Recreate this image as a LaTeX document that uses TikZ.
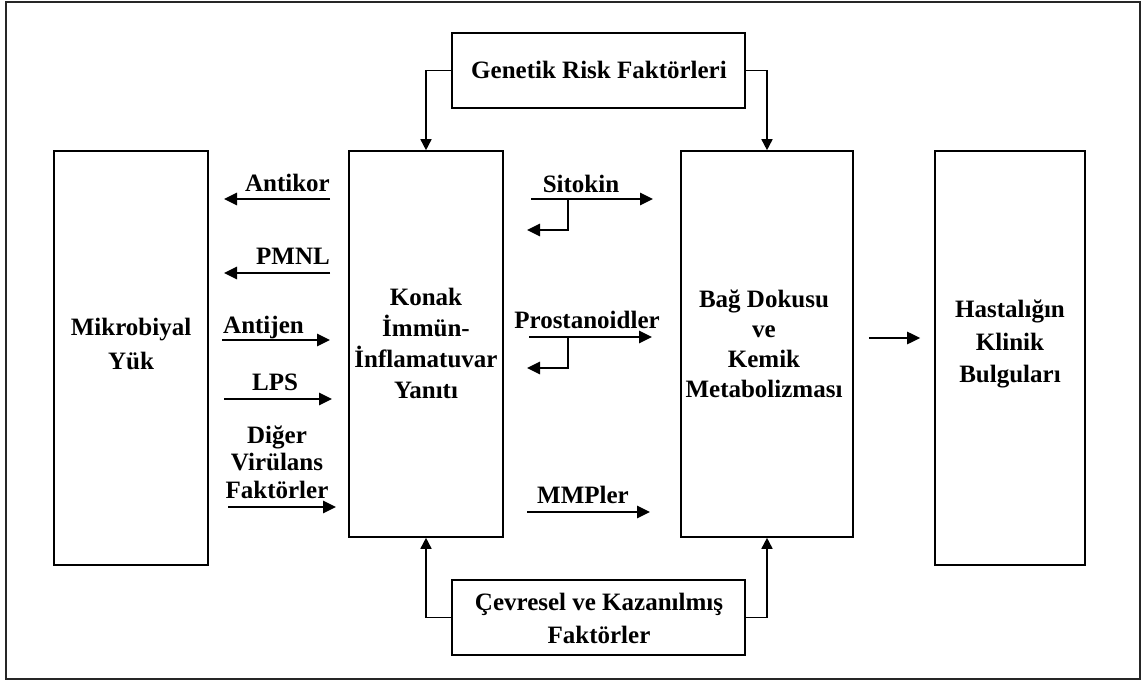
\documentclass[tikz,border=0pt]{standalone}
\usepackage{fontspec}
\setmainfont{Liberation Serif}
\usetikzlibrary{arrows.meta, positioning, calc}

\begin{document}
\begin{tikzpicture}[
    x=1pt, y=-1pt,
    bigbox/.style={
      draw=black, line width=1.6pt, inner sep=0pt,
    },
    boxtext/.style={
      font=\fontsize{25}{31}\selectfont\bfseries, align=center, inner sep=0pt
    },
    lbl/.style={font=\fontsize{25}{30}\selectfont\bfseries, inner sep=0pt},
    flow arrow/.style={-{Triangle[length=13pt,width=12pt]}, line width=2.6pt},
    link arrow/.style={-{Triangle[length=11pt,width=11pt]}, line width=1.6pt},
  ]

  %% ---- page and outer frame ----
  \useasboundingbox (0,0) rectangle (1142,684);
  \draw[line width=1.2pt, black!85] (6,2) rectangle (1140,679);

  %% ---- main boxes (centres from the layout grid) ----
  \node[bigbox, minimum width=154, minimum height=414] (mikro) at (131,358)   {};
  \node[bigbox, minimum width=154, minimum height=386] (konak) at (426,344)   {};
  \node[bigbox, minimum width=172, minimum height=386] (bag)   at (767,344)   {};
  \node[bigbox, minimum width=150, minimum height=414] (hasta) at (1010,358)  {};

  % factor boxes, top and bottom
  \node[bigbox, minimum width=293, minimum height=75] (genetik)  at (598.5,70.5)  {};
  \node[bigbox, minimum width=293, minimum height=75] (cevresel) at (598.5,617.5) {};

  %% ---- texts inside the boxes ----
  \node[boxtext, font=\fontsize{25}{34}\selectfont\bfseries]
    at (131,344) {Mikrobiyal\\Yük};
  \node[boxtext] at (426,343) {Konak\\İmmün-\\İnflamatuvar\\Yanıtı};
  \node[boxtext, font=\fontsize{25}{30}\selectfont\bfseries]
    at (764,344) {Bağ Dokusu\\ve\\Kemik\\Metabolizması};
  \node[boxtext, font=\fontsize{25}{32.5}\selectfont\bfseries]
    at (1010,344) {Hastalığın\\Klinik\\Bulguları};
  \node[boxtext] at (599,70) {Genetik Risk Faktörleri};
  \node[boxtext, font=\fontsize{25}{33}\selectfont\bfseries]
    at (599,618) {Çevresel ve Kazanılmış\\Faktörler};

  %% ---- factor links into the middle boxes ----
  \draw[link arrow] (genetik.west)  -| (konak.north);
  \draw[link arrow] (genetik.east)  -| (bag.north);
  \draw[link arrow] (cevresel.west) -| (konak.south);
  \draw[link arrow] (cevresel.east) -| (bag.south);

  %% ---- left column: host -> microbes and back ----
  \coordinate (antikorA) at (330,199);  \coordinate (antikorB) at (224,199);
  \coordinate (pmnlA)    at (330,273);  \coordinate (pmnlB)    at (224,273);
  \coordinate (antijenA) at (222,340);  \coordinate (antijenB) at (330,340);
  \coordinate (lpsA)     at (224,399);  \coordinate (lpsB)     at (332,399);
  \coordinate (digerA)   at (228,507);  \coordinate (digerB)   at (336,507);

  \draw[flow arrow] (antikorA) -- (antikorB);
  \draw[flow arrow] (pmnlA)    -- (pmnlB);
  \draw[flow arrow] (antijenA) -- (antijenB);
  \draw[flow arrow] (lpsA)     -- (lpsB);
  \draw[flow arrow] (digerA)   -- (digerB);

  \node[lbl, anchor=base east] (antikor) at (330,192) {Antikor};
  \node[lbl, anchor=base east] (pmnl)    at (330,265) {PMNL};
  \node[lbl, anchor=base west] (antijen) at (223,333) {Antijen};
  \node[lbl, anchor=base]      (lps)     at (275,390) {LPS};
  \node[boxtext, font=\fontsize{25}{27.5}\selectfont\bfseries]
    (diger) at (277,462) {Diğer\\Virülans\\Faktörler};

  %% ---- middle column: host -> tissue, with feedback ----
  \coordinate (sitokinA) at (531,199);  \coordinate (sitokinB) at (653,199);
  \coordinate (sitokinC) at (568,199);  \coordinate (sitokinD) at (527,230);
  \coordinate (prostA)   at (529,337);  \coordinate (prostB)   at (652,337);
  \coordinate (prostC)   at (568,337);  \coordinate (prostD)   at (527,368);
  \coordinate (mmpA)     at (527,512);  \coordinate (mmpB)     at (650,512);

  \draw[flow arrow] (sitokinA) -- (sitokinB);
  \draw[flow arrow] (sitokinC) |- (sitokinD);
  \draw[flow arrow] (prostA)   -- (prostB);
  \draw[flow arrow] (prostC)   |- (prostD);
  \draw[flow arrow] (mmpA)     -- (mmpB);

  \node[lbl, anchor=base] (sitokin) at (581,193) {Sitokin};
  \node[lbl, anchor=base] (prost)   at (587,328) {Prostanoidler};
  \node[lbl, anchor=base] (mmp)     at (583,503) {MMPler};

  %% ---- tissue -> clinical findings ----
  \draw[flow arrow] ($(bag.east)+(15,-6)$) -- ($(hasta.west |- bag.east)+(-14,-6)$);

\end{tikzpicture}
\end{document}
